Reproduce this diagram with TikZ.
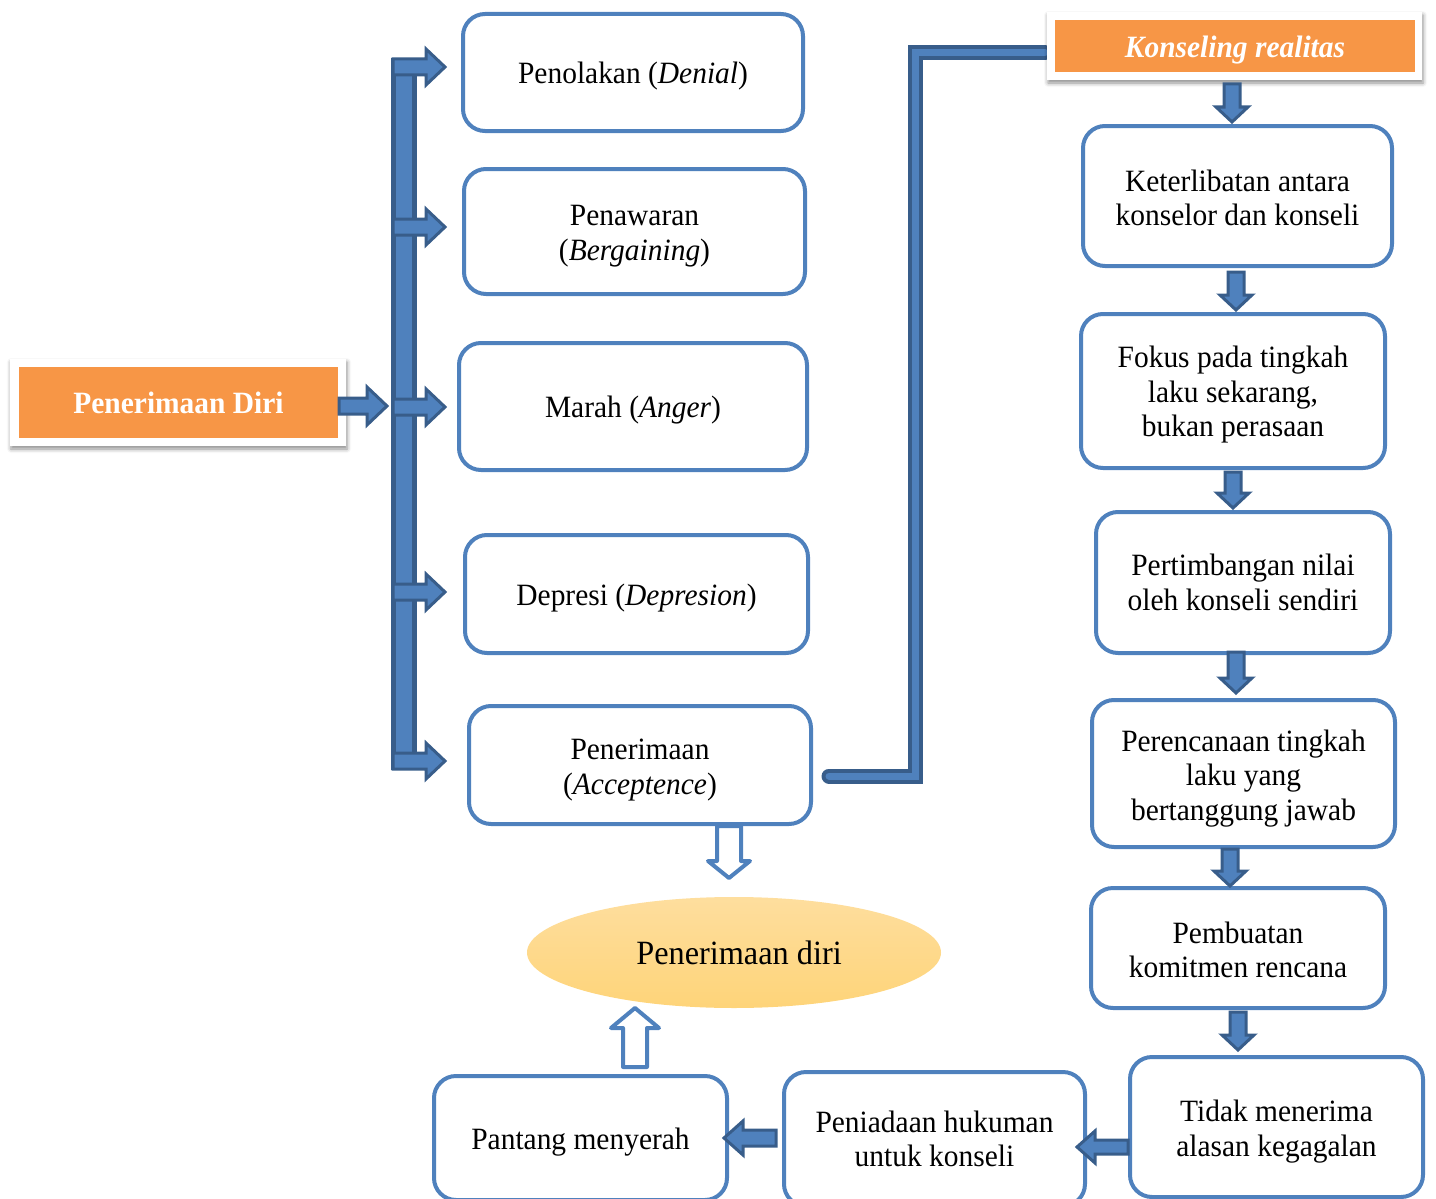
\documentclass[tikz,border=0pt]{standalone}
\usepackage{fontspec}
\setmainfont{Liberation Serif}[FakeStretch=0.95]
\usetikzlibrary{shapes.geometric,shadows.blur}

\definecolor{blueA}{HTML}{4F81BD}
\definecolor{blueD}{HTML}{385D8A}
\definecolor{orangeA}{HTML}{F79646}
\definecolor{ellTop}{HTML}{FEDE9E}
\definecolor{ellBot}{HTML}{FED479}

\newcommand\boxfont{\fontsize{31}{34.5}\selectfont}
% invisible rule on the first line: lowers the text block inside its box
\newcommand\lift[1]{\rule{0pt}{#1pt}}

% block arrow: style, start, angle, length, shaft half width, head half width, head length
\newcommand\blkarrow[7]{%
  \draw[#1, shift={#2}, rotate=#3]
    (0,-#5) -- ({#4-#7},-#5) -- ({#4-#7},-#6) -- (#4,0)
    -- ({#4-#7},#6) -- ({#4-#7},#5) -- (0,#5) -- cycle;}

\tikzset{
  stepbox/.style={draw=blueA, line width=4pt, rounded corners=22pt, fill=white,
    align=center, font=\boxfont, inner sep=0pt},
  solidarrow/.style={fill=blueA, draw=blueD, line width=3pt, line join=miter},
  hollowarrow/.style={fill=white, draw=blueA, line width=4pt, line join=round},
  frame/.style={fill=white, inner sep=0pt,
    blur shadow={shadow xshift=1pt, shadow yshift=-3pt, shadow blur radius=4pt,
      shadow opacity=45}},
  titlebox/.style={fill=orangeA, text=white, inner sep=0pt, font=\boxfont\bfseries},
  linkline/.style={draw=blueD, line width=4pt, double=blueA, double distance=7pt,
    line cap=round, line join=miter},
}

\begin{document}
\begin{tikzpicture}[x=1pt, y=-1pt]
\useasboundingbox (0,0) rectangle (1436,1199);

% ---- stages on the left ----
\node[stepbox, minimum width=340pt, minimum height=117pt] (b1) at (633,72.5) {\lift{29}Penolakan (\textit{Denial})};
\node[stepbox, minimum width=341pt, minimum height=125pt] (b2) at (634.5,231.5) {\lift{30}Penawaran\\(\textit{Bergaining})};
\node[stepbox, minimum width=348pt, minimum height=127pt] (b3) at (633,406.5) {\lift{29}Marah (\textit{Anger})};
\node[stepbox, minimum width=343pt, minimum height=118pt] (b4) at (636.5,594) {\lift{29}Depresi (\textit{Depresion})};
\node[stepbox, minimum width=342pt, minimum height=118pt] (b5) at (640,765) {\lift{31}Penerimaan\\(\textit{Acceptence})};

% ---- link from acceptance to reality counselling ----
\coordinate (l1) at (829,776);
\coordinate (l2) at (915,776);
\coordinate (l3) at (915,53);
\coordinate (l4) at (1045,53);
\draw[linkline] (l1) -- (l2) -- (l3) -- (l4);

% ---- title boxes ----
\node[frame, minimum width=336pt, minimum height=87pt] (pdf) at (178,402.5) {};
\node[titlebox, minimum width=319pt, minimum height=71pt] (pd) at (178.5,402.5) {Penerimaan Diri};
\node[frame, minimum width=375pt, minimum height=68pt] (krf) at (1234.5,46) {};
\node[titlebox, minimum width=360pt, minimum height=52pt] (kr) at (1235,46) {\lift{29}\textit{Konseling realitas}};

% ---- reality counselling steps ----
\node[stepbox, minimum width=309pt, minimum height=140pt] (r1) at (1237.5,196) {\lift{25}Keterlibatan antara\\konselor dan konseli};
\node[stepbox, minimum width=304pt, minimum height=154pt] (r2) at (1233,391) {\lift{29}Fokus pada tingkah\\laku sekarang,\\bukan perasaan};
\node[stepbox, minimum width=294pt, minimum height=141pt] (r3) at (1243,582.5) {Pertimbangan nilai\\oleh konseli sendiri};
\node[stepbox, minimum width=303pt, minimum height=147pt] (r4) at (1243.5,773.5) {\lift{31}Perencanaan tingkah\\laku yang\\bertanggung jawab};
\node[stepbox, minimum width=294pt, minimum height=120pt] (r5) at (1238,948) {\lift{25}Pembuatan\\komitmen rencana};
\node[stepbox, minimum width=293pt, minimum height=140pt] (r6) at (1276.5,1127) {\lift{31}Tidak menerima\\alasan kegagalan};
\node[stepbox, minimum width=301pt, minimum height=134pt] (q2) at (934.5,1139) {Peniadaan hukuman\\untuk konseli};
\node[stepbox, minimum width=293pt, minimum height=124pt] (q1) at (580.5,1138) {\lift{29}Pantang menyerah};

% ---- result ----
\node[ellipse, inner sep=0pt, minimum width=414pt, minimum height=111pt,
      top color=ellTop, bottom color=ellBot, font=\fontsize{34}{37}\selectfont]
      (pe) at (734,952.5) {\hspace*{10pt}Penerimaan diri};

% ---- vertical bar with branch arrows ----
\node[fill=blueA, draw=blueD, line width=5pt, inner sep=0pt,
      minimum width=21pt, minimum height=707pt] (bar) at (404,414) {};
\coordinate (s1) at (393,67);
\coordinate (s2) at (393,227);
\coordinate (s3) at (393,407);
\coordinate (s4) at (393,592);
\coordinate (s5) at (393,761);
\coordinate (s0) at (339,406);
\blkarrow{solidarrow}{(s1)}{0}{52}{8}{18}{19}
\blkarrow{solidarrow}{(s2)}{0}{52}{8}{18}{19}
\blkarrow{solidarrow}{(s3)}{0}{52}{8}{18}{19}
\blkarrow{solidarrow}{(s4)}{0}{52}{8}{18}{19}
\blkarrow{solidarrow}{(s5)}{0}{52}{8}{18}{19}
\blkarrow{solidarrow}{(s0)}{0}{48}{8}{19}{20}

% ---- arrows down the right column ----
\coordinate (d0) at (1232,84);
\coordinate (d1) at (1236,272);
\coordinate (d2) at (1233,472);
\coordinate (d3) at (1236,652);
\coordinate (d4) at (1230,849);
\coordinate (d5) at (1238,1012);
\blkarrow{solidarrow}{(d0)}{-90}{38}{8}{16}{15}
\blkarrow{solidarrow}{(d1)}{-90}{38}{8}{16}{15}
\blkarrow{solidarrow}{(d2)}{-90}{36}{8}{16}{15}
\blkarrow{solidarrow}{(d3)}{-90}{41}{8}{16}{15}
\blkarrow{solidarrow}{(d4)}{-90}{37}{8}{16}{15}
\blkarrow{solidarrow}{(d5)}{-90}{38}{8}{16}{15}

% ---- arrows along the bottom row ----
\coordinate (h1) at (1128,1147);
\coordinate (h2) at (776,1138);
\blkarrow{solidarrow}{(h1)}{180}{51}{7}{16}{18}
\blkarrow{solidarrow}{(h2)}{180}{52}{8}{17}{19}

% ---- hollow arrows into the result ----
\coordinate (o1) at (729,826);
\coordinate (o2) at (635,1067);
\blkarrow{hollowarrow}{(o1)}{-90}{52}{12}{21}{17}
\blkarrow{hollowarrow}{(o2)}{90}{59}{12}{24}{20}
\end{tikzpicture}
\end{document}
